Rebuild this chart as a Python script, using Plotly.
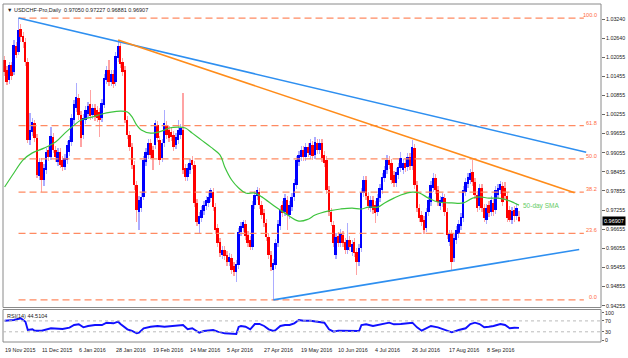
import plotly.graph_objects as go

# ---------------- data ----------------
dates = ["19 Nov 2015", "11 Dec 2015", "6 Jan 2016", "28 Jan 2016", "19 Feb 2016",
         "14 Mar 2016", "5 Apr 2016", "27 Apr 2016", "19 May 2016", "10 Jun 2016",
         "4 Jul 2016", "26 Jul 2016", "17 Aug 2016", "8 Sep 2016"]
date_idx = [0, 16, 32, 48, 64, 80, 96, 112, 128, 144, 160, 176, 192, 208]

op = [1.0196, 1.0165, 1.0134, 1.0181, 1.0159, 1.0240, 1.0221, 1.0294, 1.0272, 1.0253,
      1.0190, 0.9945, 0.9970, 0.9999, 0.9952, 0.9832, 0.9876, 0.9820, 0.9851, 0.9914,
      0.9892, 0.9955, 0.9914, 0.9876, 0.9908, 0.9883, 0.9861, 0.9883, 0.9908, 0.9939,
      1.0008, 1.0046, 1.0077, 1.0024, 0.9961, 1.0008, 1.0027, 1.0058, 1.0024, 1.0046,
      1.0040, 1.0033, 1.0014, 1.0055, 1.0134, 1.0165, 1.0127, 1.0152, 1.0127, 1.0203,
      1.0240, 1.0190, 1.0165, 1.0008, 0.9961, 0.9923, 0.9867, 0.9804, 0.9719, 0.9732,
      0.9767, 0.9876, 0.9898, 0.9936, 0.9914, 0.9930, 0.9992, 0.9945, 0.9889, 0.9936,
      0.9992, 0.9977, 0.9970, 0.9961, 0.9930, 0.9945, 0.9961, 0.9977, 0.9858, 0.9829,
      0.9851, 0.9883, 0.9867, 0.9748, 0.9682, 0.9701, 0.9723, 0.9738, 0.9748, 0.9763,
      0.9782, 0.9735, 0.9669, 0.9625, 0.9585, 0.9600, 0.9585, 0.9563, 0.9575, 0.9550,
      0.9531, 0.9553, 0.9657, 0.9669, 0.9682, 0.9647, 0.9632, 0.9610, 0.9741, 0.9770,
      0.9782, 0.9741, 0.9716, 0.9685, 0.9641, 0.9585, 0.9537, 0.9553, 0.9622, 0.9676,
      0.9741, 0.9719, 0.9757, 0.9710, 0.9735, 0.9767, 0.9804, 0.9876, 0.9892, 0.9914,
      0.9892, 0.9923, 0.9898, 0.9930, 0.9898, 0.9936, 0.9914, 0.9936, 0.9898, 0.9883,
      0.9789, 0.9719, 0.9679, 0.9585, 0.9644, 0.9622, 0.9647, 0.9625, 0.9600, 0.9632,
      0.9594, 0.9625, 0.9594, 0.9563, 0.9607, 0.9779, 0.9820, 0.9770, 0.9732, 0.9757,
      0.9741, 0.9719, 0.9763, 0.9789, 0.9826, 0.9851, 0.9883, 0.9873, 0.9836, 0.9810,
      0.9836, 0.9858, 0.9851, 0.9873, 0.9861, 0.9892, 0.9864, 0.9920, 0.9804, 0.9732,
      0.9710, 0.9694, 0.9669, 0.9719, 0.9751, 0.9795, 0.9826, 0.9789, 0.9738, 0.9748,
      0.9763, 0.9719, 0.9625, 0.9650, 0.9575, 0.9632, 0.9650, 0.9676, 0.9701, 0.9782,
      0.9807, 0.9820, 0.9845, 0.9814, 0.9773, 0.9738, 0.9795, 0.9732, 0.9694, 0.9741,
      0.9719, 0.9748, 0.9726, 0.9773, 0.9789, 0.9801, 0.9795, 0.9770, 0.9726, 0.9694,
      0.9726, 0.9707, 0.97050]

hi = [1.0209, 1.0178, 1.0190, 1.0190, 1.0259, 1.0253, 1.0328, 1.0309, 1.0284, 1.0265,
      1.0203, 1.0030, 1.0014, 1.0008, 0.9964, 0.9889, 0.9889, 0.9870, 0.9920, 0.9927,
      0.9986, 0.9967, 0.9927, 0.9920, 0.9920, 0.9895, 0.9901, 0.9942, 0.9958, 1.0027,
      1.0071, 1.0124, 1.0090, 1.0036, 1.0027, 1.0052, 1.0065, 1.0102, 1.0058, 1.0058,
      1.0052, 1.0046, 1.0074, 1.0152, 1.0178, 1.0196, 1.0165, 1.0165, 1.0221, 1.0259,
      1.0250, 1.0203, 1.0178, 1.0021, 0.9974, 0.9936, 0.9880, 0.9817, 0.9770, 0.9779,
      0.9895, 0.9920, 0.9948, 0.9948, 0.9927, 1.0008, 1.0005, 0.9958, 0.9948, 1.0040,
      1.0005, 0.9989, 0.9983, 0.9974, 0.9967, 1.0008, 0.9996, 1.0093, 0.9870, 0.9870,
      0.9886, 0.9895, 0.9880, 0.9760, 0.9719, 0.9738, 0.9754, 0.9770, 0.9779, 0.9795,
      0.9795, 0.9748, 0.9682, 0.9638, 0.9613, 0.9613, 0.9597, 0.9591, 0.9588, 0.9563,
      0.9569, 0.9669, 0.9688, 0.9694, 0.9694, 0.9660, 0.9644, 0.9754, 0.9785, 0.9798,
      0.9795, 0.9754, 0.9729, 0.9697, 0.9654, 0.9597, 0.9572, 0.9635, 0.9694, 0.9738,
      0.9754, 0.9776, 0.9770, 0.9754, 0.9779, 0.9823, 0.9895, 0.9911, 0.9927, 0.9927,
      0.9936, 0.9936, 0.9948, 0.9942, 0.9955, 0.9948, 0.9948, 0.9948, 0.9911, 0.9895,
      0.9801, 0.9732, 0.9691, 0.9654, 0.9657, 0.9666, 0.9660, 0.9638, 0.9685, 0.9644,
      0.9632, 0.9638, 0.9607, 0.9619, 0.9795, 0.9832, 0.9832, 0.9782, 0.9770, 0.9770,
      0.9754, 0.9776, 0.9807, 0.9842, 0.9864, 0.9898, 0.9895, 0.9886, 0.9848, 0.9858,
      0.9873, 0.9908, 0.9886, 0.9886, 0.9905, 0.9905, 0.9945, 0.9933, 0.9817, 0.9745,
      0.9723, 0.9707, 0.9732, 0.9770, 0.9817, 0.9842, 0.9839, 0.9801, 0.9770, 0.9779,
      0.9776, 0.9732, 0.9663, 0.9663, 0.9650, 0.9676, 0.9694, 0.9716, 0.9801, 0.9826,
      0.9842, 0.9854, 0.9883, 0.9826, 0.9785, 0.9807, 0.9807, 0.9745, 0.9745, 0.9754,
      0.9770, 0.9760, 0.9801, 0.9807, 0.9817, 0.9814, 0.9814, 0.9782, 0.9738, 0.9735,
      0.9738, 0.9748, 0.97227]

lo = [1.0146, 1.0118, 1.0121, 1.0134, 1.0149, 1.0203, 1.0212, 1.0253, 1.0234, 1.0178,
      0.9936, 0.9930, 0.9958, 0.9939, 0.9826, 0.9820, 0.9782, 0.9801, 0.9839, 0.9880,
      0.9883, 0.9905, 0.9876, 0.9864, 0.9858, 0.9848, 0.9851, 0.9870, 0.9895, 0.9927,
      0.9996, 1.0033, 1.0008, 0.9923, 0.9948, 0.9996, 1.0014, 1.0008, 1.0011, 1.0005,
      1.0002, 0.9955, 1.0002, 1.0046, 1.0121, 1.0115, 1.0115, 1.0109, 1.0115, 1.0190,
      1.0171, 1.0146, 0.9999, 0.9948, 0.9911, 0.9854, 0.9789, 0.9688, 0.9663, 0.9719,
      0.9757, 0.9864, 0.9886, 0.9886, 0.9851, 0.9917, 0.9939, 0.9867, 0.9876, 0.9923,
      0.9948, 0.9939, 0.9942, 0.9911, 0.9917, 0.9933, 0.9948, 0.9839, 0.9817, 0.9817,
      0.9839, 0.9854, 0.9735, 0.9676, 0.9654, 0.9688, 0.9710, 0.9726, 0.9735, 0.9751,
      0.9723, 0.9650, 0.9610, 0.9578, 0.9572, 0.9569, 0.9550, 0.9550, 0.9525, 0.9519,
      0.9500, 0.9541, 0.9644, 0.9657, 0.9632, 0.9610, 0.9600, 0.9600, 0.9729, 0.9757,
      0.9729, 0.9697, 0.9672, 0.9628, 0.9572, 0.9534, 0.9444, 0.9541, 0.9610, 0.9663,
      0.9704, 0.9707, 0.9663, 0.9697, 0.9723, 0.9754, 0.9792, 0.9864, 0.9880, 0.9880,
      0.9880, 0.9892, 0.9886, 0.9883, 0.9886, 0.9901, 0.9901, 0.9876, 0.9861, 0.9776,
      0.9707, 0.9676, 0.9610, 0.9572, 0.9610, 0.9610, 0.9610, 0.9588, 0.9588, 0.9597,
      0.9581, 0.9578, 0.9522, 0.9550, 0.9594, 0.9767, 0.9757, 0.9726, 0.9719, 0.9713,
      0.9685, 0.9707, 0.9751, 0.9776, 0.9814, 0.9839, 0.9854, 0.9807, 0.9798, 0.9798,
      0.9823, 0.9845, 0.9839, 0.9845, 0.9848, 0.9851, 0.9851, 0.9792, 0.9719, 0.9688,
      0.9676, 0.9650, 0.9657, 0.9707, 0.9738, 0.9782, 0.9776, 0.9738, 0.9726, 0.9735,
      0.9707, 0.9635, 0.9613, 0.9537, 0.9563, 0.9619, 0.9638, 0.9663, 0.9688, 0.9770,
      0.9795, 0.9807, 0.9801, 0.9760, 0.9719, 0.9726, 0.9719, 0.9688, 0.9682, 0.9704,
      0.9707, 0.9707, 0.9713, 0.9760, 0.9776, 0.9738, 0.9757, 0.9688, 0.9688, 0.9682,
      0.9688, 0.9694, 0.96881]

cl = [1.0159, 1.0127, 1.0181, 1.0146, 1.0243, 1.0212, 1.0290, 1.0268, 1.0253, 1.0190,
      0.9945, 0.9977, 1.0002, 0.9952, 0.9836, 0.9876, 0.9820, 0.9858, 0.9908, 0.9892,
      0.9958, 0.9914, 0.9892, 0.9908, 0.9867, 0.9861, 0.9889, 0.9930, 0.9945, 1.0014,
      1.0058, 1.0080, 1.0024, 0.9952, 1.0014, 1.0040, 1.0052, 1.0021, 1.0046, 1.0018,
      1.0014, 1.0008, 1.0061, 1.0140, 1.0165, 1.0127, 1.0152, 1.0121, 1.0209, 1.0240,
      1.0184, 1.0159, 1.0008, 0.9961, 0.9923, 0.9867, 0.9804, 0.9726, 0.9757, 0.9767,
      0.9883, 0.9908, 0.9936, 0.9898, 0.9889, 0.9999, 0.9952, 0.9883, 0.9936, 0.9999,
      0.9961, 0.9952, 0.9955, 0.9923, 0.9955, 0.9977, 0.9983, 0.9851, 0.9829, 0.9858,
      0.9873, 0.9867, 0.9748, 0.9688, 0.9707, 0.9726, 0.9741, 0.9757, 0.9767, 0.9789,
      0.9735, 0.9663, 0.9622, 0.9591, 0.9600, 0.9581, 0.9563, 0.9578, 0.9537, 0.9531,
      0.9556, 0.9657, 0.9676, 0.9688, 0.9644, 0.9622, 0.9610, 0.9741, 0.9773, 0.9789,
      0.9741, 0.9710, 0.9685, 0.9641, 0.9585, 0.9547, 0.9559, 0.9622, 0.9682, 0.9726,
      0.9716, 0.9763, 0.9710, 0.9741, 0.9767, 0.9810, 0.9883, 0.9898, 0.9914, 0.9892,
      0.9923, 0.9905, 0.9936, 0.9895, 0.9939, 0.9914, 0.9936, 0.9889, 0.9873, 0.9789,
      0.9719, 0.9688, 0.9622, 0.9641, 0.9622, 0.9654, 0.9622, 0.9600, 0.9632, 0.9610,
      0.9619, 0.9591, 0.9563, 0.9607, 0.9782, 0.9820, 0.9770, 0.9738, 0.9757, 0.9726,
      0.9716, 0.9763, 0.9795, 0.9829, 0.9851, 0.9883, 0.9867, 0.9820, 0.9810, 0.9845,
      0.9861, 0.9889, 0.9873, 0.9858, 0.9892, 0.9864, 0.9923, 0.9804, 0.9732, 0.9701,
      0.9688, 0.9663, 0.9719, 0.9757, 0.9804, 0.9826, 0.9789, 0.9751, 0.9757, 0.9767,
      0.9719, 0.9647, 0.9650, 0.9563, 0.9638, 0.9663, 0.9682, 0.9704, 0.9789, 0.9814,
      0.9829, 0.9842, 0.9814, 0.9773, 0.9732, 0.9795, 0.9732, 0.9701, 0.9732, 0.9716,
      0.9757, 0.9719, 0.9789, 0.9795, 0.9807, 0.9751, 0.9770, 0.9701, 0.9694, 0.9723,
      0.9707, 0.9732, 0.96907]

sma_idx = [0, 4, 8, 12, 17, 22, 26, 30, 33, 38, 42, 46, 50, 53, 55, 57, 59, 63, 68, 71,
           75, 78, 81, 85, 89, 93, 95, 98, 101, 104, 108, 111, 117, 121, 127, 131, 134, 140, 145, 150,
           154, 157, 161, 164, 168, 171, 176, 179, 183, 187, 193, 198, 202, 205, 209, 213, 217, 220, 222]
sma_val = [0.9798, 0.9842, 0.9883, 0.9905, 0.9920, 0.9939, 0.9967, 0.9992, 1.0008, 1.0018,
           1.0027, 1.0033, 1.0036, 1.0033, 1.0018, 0.9992, 0.9977, 0.9967, 0.9974, 0.9983,
           0.9986, 0.9983, 0.9967, 0.9945, 0.9923, 0.9898, 0.9861, 0.9820, 0.9795, 0.9779,
           0.9779, 0.9767, 0.9735, 0.9716, 0.9691, 0.9697, 0.9710, 0.9723, 0.9729, 0.9732,
           0.9729, 0.9735, 0.9735, 0.9748, 0.9763, 0.9773, 0.9782, 0.9779, 0.9763, 0.9751,
           0.9748, 0.9748, 0.9763, 0.9767, 0.9763, 0.9763, 0.9757, 0.9748, 0.9741]

rsi_idx = [0, 4, 7, 9, 10, 12, 13, 16, 20, 25, 28, 30, 32, 34, 36, 39, 42, 44, 47, 49,
           50, 53, 55, 57, 58, 60, 63, 66, 69, 72, 75, 77, 79, 81, 84, 86, 90, 92, 95, 98,
           100, 101, 102, 104, 106, 108, 110, 112, 114, 116, 117, 119, 121, 123, 125, 127, 129, 132, 135, 138,
           140, 142, 144, 147, 150, 153, 154, 156, 159, 163, 166, 168, 171, 176, 178, 180, 182, 184, 187, 190,
           193, 196, 199, 201, 203, 205, 207, 209, 211, 214, 216, 218, 220, 222]
rsi_val = [70.7, 73.3, 79.5, 67.0, 36.6, 39.2, 34.1, 34.1, 42.9, 40.3,
           45.1, 54.9, 57.5, 46.5, 51.3, 54.9, 54.9, 63.4, 61.2, 67.0,
           58.6, 39.2, 33.0, 24.5, 26.7, 42.9, 48.7, 51.3, 48.7, 51.3,
           52.4, 54.9, 39.2, 42.9, 26.7, 33.0, 36.6, 30.4, 24.5, 22.0,
           22.0, 48.0, 51.3, 48.7, 39.2, 58.6, 58.6, 51.3, 39.2, 33.0,
           36.6, 51.3, 54.9, 54.9, 61.2, 73.3, 70.7, 70.7, 67.0, 63.4,
           39.2, 30.4, 34.1, 34.1, 34.1, 33.0, 54.9, 57.5, 51.3, 58.6,
           63.4, 57.5, 58.6, 63.4, 46.5, 34.1, 42.9, 51.3, 46.5, 36.6,
           28.2, 36.6, 42.9, 58.6, 63.4, 58.6, 46.5, 48.7, 51.3, 58.6,
           54.9, 42.9, 45.1, 44.5104]

fib_levels = [0.0, 23.6, 38.2, 50.0, 61.8, 100.0]
fib_span = [6, 250]

price_ticks = ["1.03240", "1.02640", "1.02055", "1.01455", "1.00855", "1.00255", "0.99655",
               "0.99055", "0.98455", "0.97855", "0.97255", "0.96655", "0.96055", "0.95455",
               "0.94855", "0.94255"]
rsi_ticks = [0, 30, 70, 100]

upper_line_idx = [6, 251]
upper_line_px = [1.0328, 0.9907]
resist_line_idx = [49, 246]
resist_line_px = [1.0259, 0.9780]
support_line_idx = [116, 248]
support_line_px = [0.9444, 0.9602]

# ---------------- figure ----------------
FONT = "Liberation Sans, Arial, sans-serif"
n = len(cl)
xs = list(range(n))
up = [c >= o for o, c in zip(op, cl)]
wick_col = ["rgba(70,70,255,0.45)" if u else "rgba(255,50,50,0.45)" for u in up]
body_col = ["#0000ff" if u else "#ff0000" for u in up]

fig = go.Figure()

# fib retracement lines
lo_min, hi_max = min(lo), max(hi)
for lvl in fib_levels:
    p = lo_min + lvl / 100.0 * (hi_max - lo_min)
    fig.add_trace(go.Scatter(x=fib_span, y=[p, p], mode="lines",
                             line=dict(color="#ff8a62", width=1.3, dash="7px,4px"),
                             hoverinfo="skip"))
    fig.add_annotation(x=0.997, xref="paper", y=p, yref="y", text=f"{lvl:.1f}",
                       showarrow=False, xanchor="right", yanchor="bottom", yshift=-2,
                       font=dict(family=FONT, size=5.6, color="#ff6a3d"))

# candles: wicks then bodies
fig.add_trace(go.Bar(x=xs, base=lo, y=[h - l for h, l in zip(hi, lo)], width=0.55,
                     marker=dict(color=wick_col, line=dict(width=0)), hoverinfo="skip"))
fig.add_trace(go.Bar(x=xs, base=[min(o, c) for o, c in zip(op, cl)],
                     y=[max(abs(c - o), 0.00018) for o, c in zip(op, cl)], width=0.85,
                     marker=dict(color=body_col, line=dict(width=0)), hoverinfo="skip"))

# trend lines
fig.add_trace(go.Scatter(x=upper_line_idx, y=upper_line_px, mode="lines",
                         line=dict(color="#2e8ff0", width=1.6), hoverinfo="skip"))
fig.add_trace(go.Scatter(x=resist_line_idx, y=resist_line_px, mode="lines",
                         line=dict(color="#ff8c1a", width=1.6), hoverinfo="skip"))
fig.add_trace(go.Scatter(x=support_line_idx, y=support_line_px, mode="lines",
                         line=dict(color="#2e8ff0", width=1.6), hoverinfo="skip"))

# 50-day SMA
fig.add_trace(go.Scatter(x=sma_idx, y=sma_val, mode="lines", line_shape="spline",
                         line=dict(color="#3ec43e", width=1.2), hoverinfo="skip"))
fig.add_annotation(x=223, xref="x", y=0.9738, yref="y", text="50-day SMA", showarrow=False,
                   xanchor="left", yanchor="middle",
                   font=dict(family=FONT, size=6.5, color="#66cc66"))

# RSI
fig.add_trace(go.Scatter(x=rsi_idx, y=rsi_val, mode="lines", yaxis="y2",
                         line=dict(color="#1010ff", width=1.9), hoverinfo="skip"))

MAIN_DOM = [0.10207, 1.0]
RSI_DOM = [0.0, 0.09615]

shapes = [
    dict(type="rect", xref="paper", yref="paper", x0=0, x1=1, y0=MAIN_DOM[0], y1=MAIN_DOM[1],
         line=dict(color="#8a8a8a", width=1)),
    dict(type="rect", xref="paper", yref="paper", x0=0, x1=1, y0=RSI_DOM[0], y1=RSI_DOM[1],
         line=dict(color="#8a8a8a", width=1)),
]
for lvl in (30, 70):
    shapes.append(dict(type="line", xref="paper", yref="y2", x0=0, x1=1, y0=lvl, y1=lvl,
                       line=dict(color="#bbbbbb", width=1, dash="dot")))

# title / labels
fig.add_annotation(x=0, xref="paper", y=1, yref="paper", xanchor="left", yanchor="top",
                   xshift=2, yshift=-1,
                   text=f"\u25bc USDCHF-Pro,Daily  {op[-1]:.5f} {hi[-1]:.5f} {lo[-1]:.5f} {cl[-1]:.5f}",
                   showarrow=False, font=dict(family=FONT, size=5.5, color="#222222"))
fig.add_annotation(x=0, xref="paper", y=RSI_DOM[1], yref="paper", xanchor="left", yanchor="top",
                   xshift=2, yshift=-1, text=f"RSI(14) {rsi_val[-1]:.4f}", showarrow=False,
                   font=dict(family=FONT, size=5.5, color="#222222"))
fig.add_annotation(x=1, xref="paper", y=cl[-1], yref="y", xanchor="left", yanchor="middle",
                   xshift=1, text=f"{cl[-1]:.5f}", showarrow=False, bgcolor="#000000",
                   borderpad=1, font=dict(family=FONT, size=5.5, color="#ffffff"))
for i, d in zip(date_idx, dates):
    fig.add_annotation(x=i, xref="x", y=0, yref="paper", xanchor="left", yanchor="top",
                       xshift=-2, yshift=-3, text=d, showarrow=False,
                       font=dict(family=FONT, size=5.4, color="#222222"))

fig.update_layout(
    width=628, height=358,
    margin=dict(l=3, r=27, t=4, b=16),
    paper_bgcolor="white", plot_bgcolor="white",
    showlegend=False, barmode="overlay", bargap=0,
    shapes=shapes,
    xaxis=dict(range=[-0.7, 257.4], showticklabels=False, showgrid=False, zeroline=False,
               anchor="y2", fixedrange=True),
    yaxis=dict(domain=MAIN_DOM, range=[0.9420, 1.0372], side="right", anchor="x",
               tickvals=[float(t) for t in price_ticks], ticktext=price_ticks,
               showgrid=False, zeroline=False, ticks="outside", ticklen=3, tickcolor="#666",
               tickfont=dict(family=FONT, size=5.3, color="#222222")),
    yaxis2=dict(domain=RSI_DOM, range=[-7.3, 111.7], side="right", anchor="x",
                tickvals=rsi_ticks, ticktext=[str(t) for t in rsi_ticks],
                showgrid=False, zeroline=False, ticks="outside", ticklen=2, tickcolor="#666",
                tickfont=dict(family=FONT, size=5.3, color="#222222")),
)

fig.write_html("out.html", config={"displayModeBar": False},
               post_script="document.body.style.margin='0';document.body.style.overflow='hidden';")
